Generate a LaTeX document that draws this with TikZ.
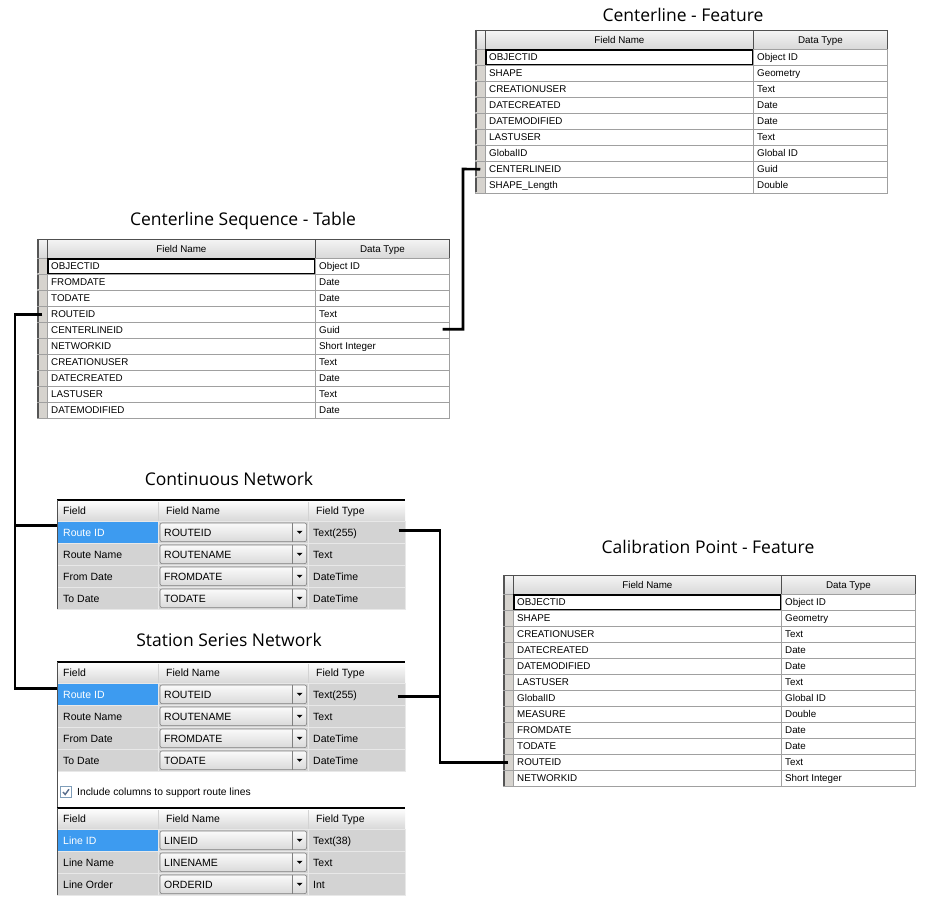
\documentclass[tikz,border=0pt]{standalone}
\usepackage{fontspec}
\setmainfont{Liberation Sans}
\newfontfamily\titlefont{Open Sans}
\usetikzlibrary{calc}
\definecolor{stubgray}{HTML}{D6D3CE}
\definecolor{stubdark}{HTML}{555555}
\definecolor{gridgray}{HTML}{A0A0A0}
\definecolor{hdrtop}{HTML}{F4F4F4}
\definecolor{hdrbot}{HTML}{D8D8D8}
\definecolor{hdredge}{HTML}{505050}
\definecolor{panelgray}{HTML}{D3D3D3}
\definecolor{panelline}{HTML}{E8E8E8}
\definecolor{selblue}{HTML}{3D9BF0}
\definecolor{combotop}{HTML}{FAFAFA}
\definecolor{combobot}{HTML}{DADADA}
\definecolor{comboedge}{HTML}{808080}
\definecolor{chkedge}{HTML}{7F9DB9}
\definecolor{chkmark}{HTML}{5A6E8C}
\tikzset{
  titletext/.style={font=\titlefont\fontsize{17.5}{19}\selectfont, inner sep=0},
  hdrcell/.style={draw=hdredge, line width=0.8pt, top color=hdrtop, bottom color=hdrbot,
    minimum height=19pt, inner sep=0, anchor=north west, text height=7pt, text depth=0pt,
    font=\fontsize{9.8}{11}\selectfont},
  stubcell/.style={draw=gridgray, line width=0.5pt, fill=stubgray, minimum width=10pt,
    minimum height=16pt, inner sep=0, anchor=north west},
  datacell/.style={draw=gridgray, line width=0.5pt, fill=white, minimum height=16pt,
    inner sep=0, anchor=north west},
  celltext/.style={inner sep=0, anchor=west, text height=7pt, text depth=0pt,
    font=\fontsize{9.8}{11}\selectfont},
  netcell/.style={draw=panelline, line width=0.6pt, fill=panelgray, minimum height=22pt,
    inner sep=0, anchor=north west},
  nettext/.style={inner sep=0, anchor=west, text height=7.5pt, text depth=0pt,
    font=\fontsize{10.5}{12}\selectfont},
  combo/.style={draw=comboedge, line width=0.6pt, rounded corners=2pt, top color=combotop,
    bottom color=combobot},
  conn/.style={line width=2.6pt, line join=miter, line cap=butt}
}
\newcommand\esritable[6]{%
  \node[hdrcell, minimum width=10pt] (#1-hs) at (#2,#3) {};
  \node[hdrcell, minimum width=#4pt] (#1-hf) at (#2+10,#3) {Field Name};
  \node[hdrcell, minimum width=#5pt] (#1-ht) at (#2+10+#4,#3) {Data Type};
  \draw[line width=2.2pt, stubdark] ([xshift=1.1pt]#1-hs.north west) -- ([xshift=1.1pt]#1-hs.south west);
  \foreach \colA/\colB [count=\i] in {#6} {
    \node[stubcell] (#1-s-\i) at (#2, #3+19+16*\i-16) {};
    \draw[line width=2.2pt, stubdark] ([xshift=1.1pt,yshift=-1pt]#1-s-\i.north west) -- ([xshift=1.1pt,yshift=1pt]#1-s-\i.south west);
    \node[datacell, minimum width=#4pt] (#1-f-\i) at (#2+10, #3+19+16*\i-16) {};
    \node[celltext] at ([xshift=4pt]#1-f-\i.west) {\colA};
    \node[datacell, minimum width=#5pt] (#1-t-\i) at (#2+10+#4, #3+19+16*\i-16) {};
    \node[celltext] at ([xshift=4pt]#1-t-\i.west) {\colB};
  }
  \draw[line width=1.5pt] ([shift={(1pt,-1pt)}]#1-f-1.north west) rectangle ([shift={(-1pt,1pt)}]#1-f-1.south east);
}
\newcommand\netpanel[4]{% name, top, bottom of left border, rows
  \fill[top color=white, bottom color=hdrbot] (57,#2) rectangle (405,#2+21);
  \draw[line width=0.5pt, panelgray] (158,#2+2) -- (158,#2+21) (308,#2+2) -- (308,#2+21);
  \node[nettext] (#1-h1) at (63,#2+11) {Field};
  \node[nettext] (#1-h2) at (166,#2+11) {Field Name};
  \node[nettext] (#1-h3) at (316,#2+11) {Field Type};
  \foreach \colA/\colB/\colC [count=\i] in {#4} {
    \ifnum\i=1 \def\cfill{selblue}\def\ctext{white}\else\def\cfill{panelgray}\def\ctext{black}\fi
    \node[netcell, fill=\cfill, minimum width=101pt] (#1-f-\i) at (57, #2+21+22*\i-22) {};
    \node[nettext, text=\ctext] at ([xshift=6pt]#1-f-\i.west) {\colA};
    \node[netcell, minimum width=150pt] (#1-n-\i) at (158, #2+21+22*\i-22) {};
    \draw[combo] ([shift={(2pt,-2pt)}]#1-n-\i.north west) rectangle ([shift={(-2pt,2pt)}]#1-n-\i.south east);
    \draw[comboedge, line width=0.6pt] ([shift={(-16pt,-2pt)}]#1-n-\i.north east) -- ([shift={(-16pt,2pt)}]#1-n-\i.south east);
    \fill ([xshift=-9pt]#1-n-\i.east) ++(-3pt,1.5pt) -- ++(6pt,0pt) -- ++(-3pt,-3pt) -- cycle;
    \node[nettext] at ([xshift=6pt]#1-n-\i.west) {\colB};
    \node[netcell, minimum width=97pt] (#1-t-\i) at (308, #2+21+22*\i-22) {};
    \node[nettext] at ([xshift=5pt]#1-t-\i.west) {\colC};
  }
  \draw[line width=1.2pt] (57,#2) -- (405,#2);
  \draw[line width=1pt, hdredge] (57,#2) -- (57,#3);
}
\begin{document}
\begin{tikzpicture}[x=1pt, y=-1pt]
\useasboundingbox (0,0) rectangle (926,917);
\fill[white] (0,0) rectangle (926,917);

% titles
\node[titletext] (t-cl) at (683,15) {Centerline - Feature};
\node[titletext] (t-seq) at (243,221) {Centerline Sequence - Table};
\node[titletext] (t-cn) at (229,479) {Continuous Network};
\node[titletext] (t-ss) at (229,640) {Station Series Network};
\node[titletext] (t-cal) at (708,547) {Calibration Point - Feature};

% ESRI tables
\esritable{cl}{475}{30}{268}{134}{OBJECTID/Object ID, SHAPE/Geometry, CREATIONUSER/Text,
  DATECREATED/Date, DATEMODIFIED/Date, LASTUSER/Text, GlobalID/Global ID,
  CENTERLINEID/Guid, SHAPE\_Length/Double}
\esritable{seq}{37}{239}{268}{134}{OBJECTID/Object ID, FROMDATE/Date, TODATE/Date,
  ROUTEID/Text, CENTERLINEID/Guid, NETWORKID/Short Integer, CREATIONUSER/Text,
  DATECREATED/Date, LASTUSER/Text, DATEMODIFIED/Date}
\esritable{cal}{503}{575}{268}{134}{OBJECTID/Object ID, SHAPE/Geometry, CREATIONUSER/Text,
  DATECREATED/Date, DATEMODIFIED/Date, LASTUSER/Text, GlobalID/Global ID,
  MEASURE/Double, FROMDATE/Date, TODATE/Date, ROUTEID/Text, NETWORKID/Short Integer}

% network panels
\netpanel{cn}{500}{609}{Route ID/ROUTEID/Text(255), Route Name/ROUTENAME/Text,
  From Date/FROMDATE/DateTime, To Date/TODATE/DateTime}
\netpanel{ss}{662}{895}{Route ID/ROUTEID/Text(255), Route Name/ROUTENAME/Text,
  From Date/FROMDATE/DateTime, To Date/TODATE/DateTime}
\node[draw=chkedge, line width=0.8pt, fill=white, minimum size=11pt, inner sep=0] (chk) at (66,792) {};
\draw[chkmark, line width=1.4pt] ([shift={(-3pt,0pt)}]chk.center) -- ([shift={(-0.8pt,-2.5pt)}]chk.center) -- ([shift={(3pt,2.8pt)}]chk.center);
\node[nettext, font=\fontsize{10.3}{12}\selectfont] (chklabel) at (77,792) {Include columns to support route lines};
\netpanel{ln}{808}{895}{Line ID/LINEID/Text(38), Line Name/LINENAME/Text,
  Line Order/ORDERID/Int}

% connectors
\coordinate (lbus) at (15,0);
\coordinate (rbend) at (463,169);
\coordinate (cbus) at (440,0);
\coordinate (ssin) at ([yshift=6pt]ss-f-1.west);
\coordinate (cnin) at ([yshift=7pt]cn-f-1.west);
\coordinate (clout) at ([xshift=-7pt,yshift=1pt]seq-t-5.east);
\coordinate (cnout) at ([xshift=-7pt,yshift=2pt]cn-t-1.east);
\coordinate (ssout) at ([xshift=-8pt,yshift=-2pt]ss-t-1.east);

\draw[conn] (seq-s-4.center) -| (lbus |- ssin) -- (ssin);
\draw[conn] (cnin -| lbus) -- (cnin);
\draw[conn] (clout) -| (rbend) -- (cl-s-8.center);
\draw[conn] (cnout) -| (cbus |- cal-s-11.center) -- (cal-s-11.center);
\draw[conn] (ssout) -- (ssout -| cbus);
\end{tikzpicture}
\end{document}
